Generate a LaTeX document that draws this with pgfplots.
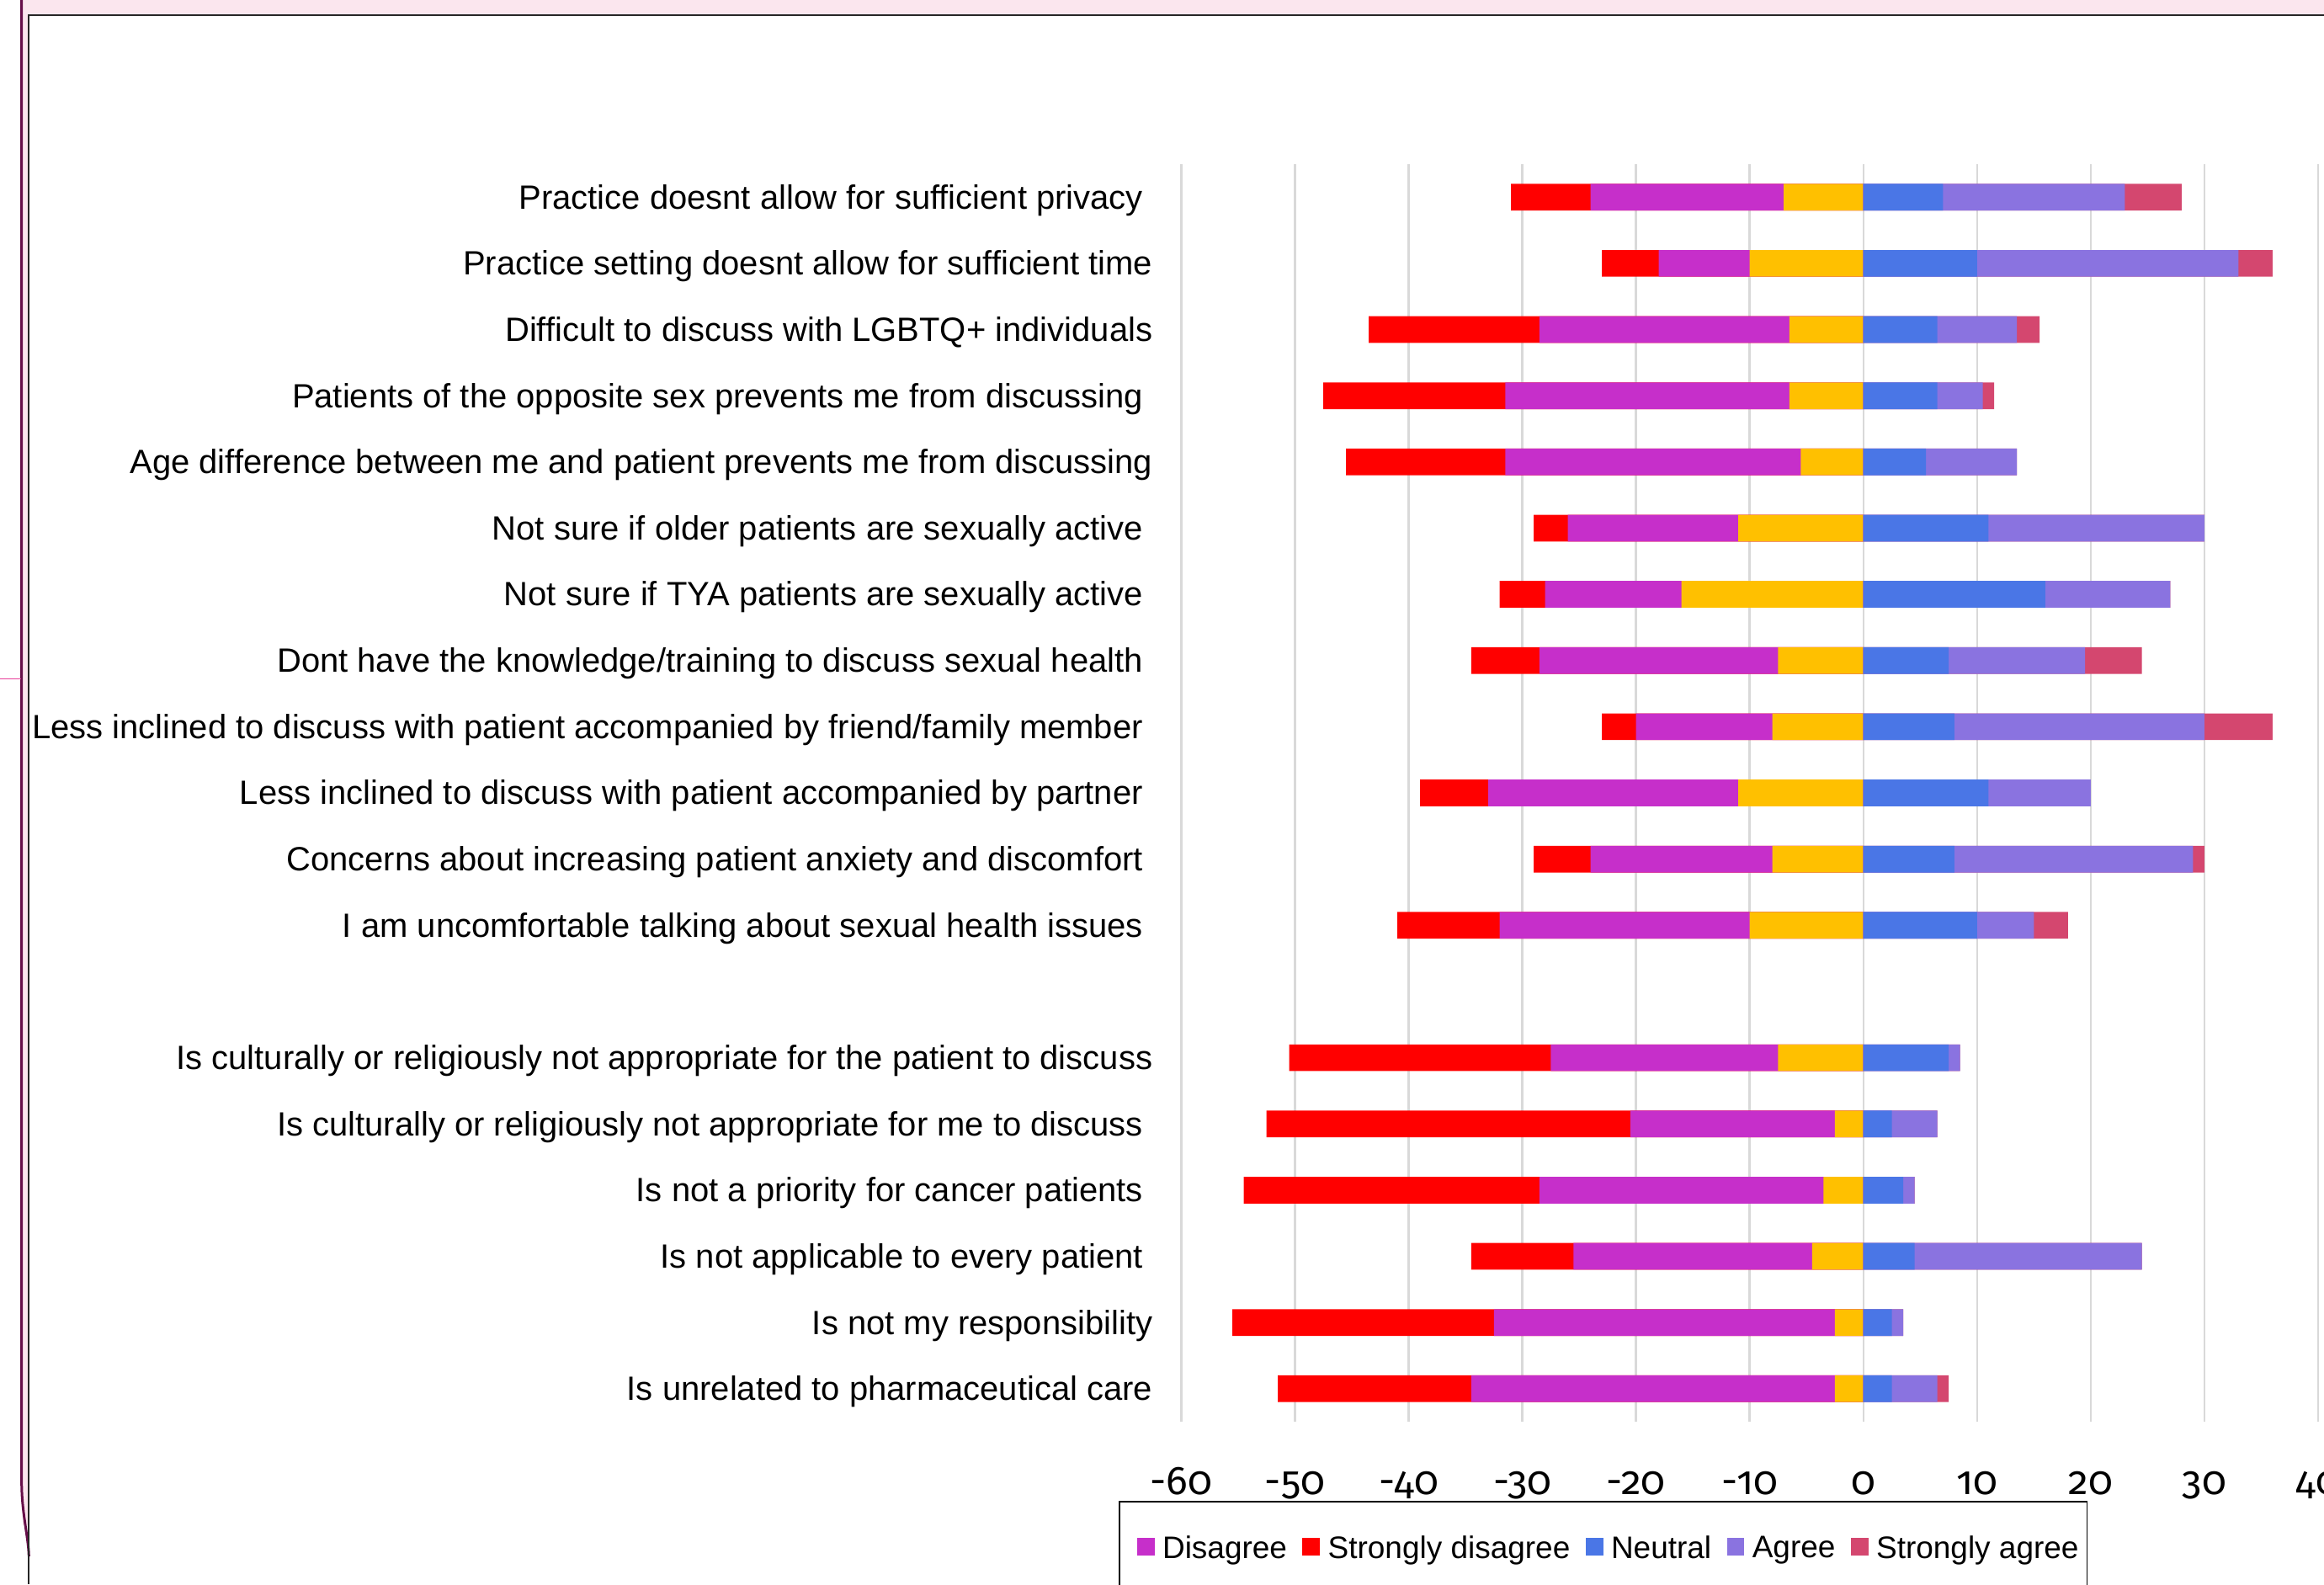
\documentclass[border=0pt]{standalone}
\usepackage{pgfplots}
\pgfplotsset{compat=1.18}
\usepackage{pgfplotstable}
\usepackage{fontspec}
\setmainfont{Liberation Sans}
\newfontfamily\tickfont[Numbers=OldStyle]{Fira Sans}

\definecolor{cSD}{HTML}{FF0000}
\definecolor{cD}{HTML}{C62FCA}
\definecolor{cN}{HTML}{FFC000}
\definecolor{cNp}{HTML}{4A76E6}
\definecolor{cA}{HTML}{8A73E0}
\definecolor{cSA}{HTML}{D4476F}
\definecolor{gridgray}{HTML}{D9D9D9}
\definecolor{framepink}{HTML}{FBE6EE}
\definecolor{framepurple}{HTML}{660E49}
\definecolor{tickpink}{HTML}{E8409A}

% pos: position from the bottom; SD, D: strongly disagree / disagree;
% N: half of neutral (shown on each side); A, SA: agree / strongly agree
\pgfplotstableread{
pos SD D N A SA
19 7 17 7 16 5
18 5 8 10 23 3
17 15 22 6.5 7 2
16 16 25 6.5 4 1
15 14 26 5.5 8 0
14 3 15 11 19 0
13 4 12 16 11 0
12 6 21 7.5 12 5
11 3 12 8 22 6
10 6 22 11 9 0
9 5 16 8 21 1
8 9 22 10 5 3
6 23 20 7.5 1 0
5 32 18 2.5 4 0
4 26 25 3.5 1 0
3 9 21 4.5 20 0
2 23 30 2.5 1 0
1 17 32 2.5 4 1
}\datatable

\pgfplotsset{sq/.style={legend image code/.code={\fill[#1] (0pt,-1.75pt) rectangle (5.4pt,3.65pt);}}}
\newcommand{\tsp}{\kern3.2pt}

\begin{document}
\begin{tikzpicture}
\useasboundingbox (0,0) rectangle (784pt,534.5pt);
\clip (0,0) rectangle (784pt,534.5pt);
% frame
\fill[framepink] (7.75pt,529.75pt) rectangle (784pt,534.5pt);
\fill[framepink] (7.75pt,20pt) rectangle (9.75pt,534.5pt);
\draw[framepurple, line width=0.85pt] (7.3pt,534.5pt) -- (7.3pt,34.5pt) .. controls (7.3pt,24pt) and (9.6pt,16pt) .. (9.75pt,9.5pt);
\draw[black!85, line width=0.6pt] (784pt,529.5pt) -- (9.75pt,529.5pt) -- (9.75pt,0pt);
\draw[tickpink, line width=0.5pt] (0pt,305.5pt) -- (7pt,305.5pt);

\begin{axis}[
  scale only axis, width=383.5pt, height=424.3pt,
  at={(398.5pt,54.85pt)}, anchor=south west,
  xmin=-60, xmax=40, ymin=0.5, ymax=19.5,
  axis line style={draw=none},
  major tick length=0pt,
  xtick={-60,-50,-40,-30,-20,-10,0,10,20,30,40},
  xticklabels={-60,-50,-40,-30,-20,-10,0,10,20,30,40},
  xticklabel style={font=\tickfont\fontsize{13.5}{15}\selectfont, anchor=base, yshift=-24.4pt, inner sep=0pt},
  ytick={1,2,3,4,5,6,8,9,10,11,12,13,14,15,16,17,18,19},
  yticklabels={
    {Is unrelated to pharmaceutical care},
    {Is not my responsibility},
    {Is not applicable to every patient\tsp},
    {Is not a priority for cancer patients\tsp},
    {Is culturally or religiously not appropriate for me to discuss\tsp},
    {Is culturally or religiously not appropriate for the patient to discuss},
    {I am uncomfortable talking about sexual health issues\tsp},
    {Concerns about increasing patient anxiety and discomfort\tsp},
    {Less inclined to discuss with patient accompanied by partner\tsp},
    {Less inclined to discuss with patient accompanied by friend/family member\tsp},
    {Dont have the knowledge/training to discuss sexual health\tsp},
    {Not sure if TYA patients are sexually active\tsp},
    {Not sure if older patients are sexually active\tsp},
    {Age difference between me and patient prevents me from discussing},
    {Patients of the opposite sex prevents me from discussing\tsp},
    {Difficult to discuss with LGBTQ+ individuals},
    {Practice setting doesnt allow for sufficient time},
    {Practice doesnt allow for sufficient privacy\tsp}},
  yticklabel style={font=\fontsize{11.35}{13}\selectfont, anchor=east, inner sep=0pt, xshift=-9.5pt, yshift=-1pt},
  xmajorgrids, ymajorgrids=false,
  major grid style={draw=gridgray, line width=0.7pt},
  legend columns=5,
  legend style={at={(-0.0548,-0.0628)}, anchor=north west, draw=black, line width=0.55pt,
    font=\fontsize{10.5}{12}\selectfont, inner xsep=5.8pt, inner ysep=11.5pt,
    nodes={inner sep=0pt},
    /tikz/column sep=2.65pt,
    /tikz/every even column/.append style={column sep=5.2pt}},
]
% negative side (cumulative from zero)
\addplot[xbar, bar width=9pt, bar shift=0pt, fill=cSD, draw=none, forget plot]
  table[x expr={-(\thisrow{N}+\thisrow{D}+\thisrow{SD})}, y=pos] {\datatable};
\addplot[xbar, bar width=9pt, bar shift=0pt, fill=cD, draw=none, forget plot]
  table[x expr={-(\thisrow{N}+\thisrow{D})}, y=pos] {\datatable};
\addplot[xbar, bar width=9pt, bar shift=0pt, fill=cN, draw=none, forget plot]
  table[x expr={-\thisrow{N}}, y=pos] {\datatable};
% positive side
\addplot[xbar, bar width=9pt, bar shift=0pt, fill=cSA, draw=none, forget plot]
  table[x expr={\thisrow{N}+\thisrow{A}+\thisrow{SA}}, y=pos] {\datatable};
\addplot[xbar, bar width=9pt, bar shift=0pt, fill=cA, draw=none, forget plot]
  table[x expr={\thisrow{N}+\thisrow{A}}, y=pos] {\datatable};
\addplot[xbar, bar width=9pt, bar shift=0pt, fill=cNp, draw=none, forget plot]
  table[x expr={\thisrow{N}}, y=pos] {\datatable};

\addlegendimage{sq=cD}\addlegendentry{Disagree}
\addlegendimage{sq=cSD}\addlegendentry{Strongly disagree}
\addlegendimage{sq=cNp}\addlegendentry{Neutral}
\addlegendimage{sq=cA}\addlegendentry{Agree}
\addlegendimage{sq=cSA}\addlegendentry{Strongly agree\kern-3pt}
\end{axis}
\end{tikzpicture}
\end{document}
